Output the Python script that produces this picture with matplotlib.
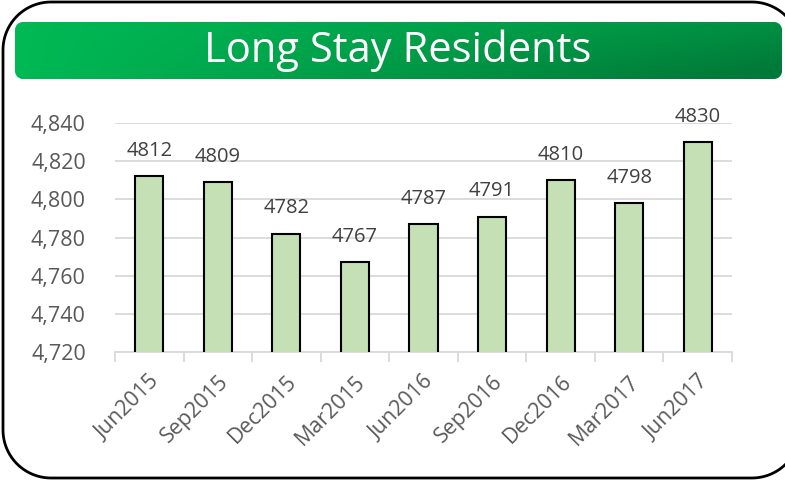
import matplotlib as mpl

mpl.use("Agg")

import matplotlib.pyplot as plt
import numpy as np
from matplotlib.patches import Polygon

W, H = 785, 480

categories = ["Jun2015", "Sep2015", "Dec2015", "Mar2015", "Jun2016",
              "Sep2016", "Dec2016", "Mar2017", "Jun2017"]
residents = [4812, 4809, 4782, 4767, 4787, 4791, 4810, 4798, 4830]
y_ticks = [4720, 4740, 4760, 4780, 4800, 4820, 4840]

BAR_FILL = "#C5E0B4"
GRID = "#D9D9D9"
TICK_TEXT = "#595959"
LABEL_TEXT = "#404040"

mpl.rcParams.update({"font.family": ["Open Sans", "DejaVu Sans"]})


def rounded_rect(x0, y0, x1, y1, r, n=24):
    # pixel coords, y downward; corners: top-left, top-right, bottom-right, bottom-left
    pts = []
    corners = [(x0 + r, y0 + r, np.pi, 1.5 * np.pi),
               (x1 - r, y0 + r, 1.5 * np.pi, 2 * np.pi),
               (x1 - r, y1 - r, 0, 0.5 * np.pi),
               (x0 + r, y1 - r, 0.5 * np.pi, np.pi)]
    for cx, cy, a0, a1 in corners:
        a = np.linspace(a0, a1, n)
        pts.extend(zip(cx + r * np.cos(a), cy + r * np.sin(a)))
    return np.array(pts)


fig = plt.figure(figsize=(W / 100, H / 100), dpi=100)

# background canvas in pixel coords (y downward)
bg = fig.add_axes([0, 0, 1, 1])
bg.set_xlim(0, W)
bg.set_ylim(H, 0)
bg.set_autoscale_on(False)
bg.axis("off")

frame = Polygon(rounded_rect(3, 2, 800, 478, 48), closed=True,
                facecolor="white", edgecolor="black", lw=2)
bg.add_patch(frame)

banner = Polygon(rounded_rect(15, 22, 782, 79, 8), closed=True,
                 facecolor="none", edgecolor="none")
bg.add_patch(banner)
gx = np.linspace(0, 1, 300)
gy = np.linspace(0, 1, 40)
GX, GY = np.meshgrid(gx, gy)
t = np.clip(0.65 * GX + 0.45 * GY * GX, 0, 1)
c0 = np.array([0x00, 0xB9, 0x55]) / 255
c1 = np.array([0x00, 0x7A, 0x38]) / 255
img = c0[None, None, :] * (1 - t[..., None]) + c1[None, None, :] * t[..., None]
im = bg.imshow(img, extent=(15, 782, 79, 22), aspect="auto", zorder=2)
im.set_clip_path(banner)
bg.set_xlim(0, W)
bg.set_ylim(H, 0)
bg.text(398, 51, "Long Stay Residents", color="white", fontsize=30,
        ha="center", va="center", zorder=3)

# chart area
left, right, top, bottom = 115, 732, 123, 352
ax = fig.add_axes([left / W, 1 - bottom / H, (right - left) / W, (bottom - top) / H])
ax.patch.set_alpha(0)

x = np.arange(len(categories))
bars = ax.bar(x, residents, width=0.41, color=BAR_FILL, edgecolor="black", lw=1.5, zorder=3)
for xi, v in zip(x, residents):
    ax.annotate(str(v), (xi, v), xytext=(0, 11), textcoords="offset points",
                ha="center", va="bottom", fontsize=14.5, color=LABEL_TEXT,
                annotation_clip=False)

ax.set_xlim(-0.5, len(categories) - 0.5)
ax.set_ylim(y_ticks[0], y_ticks[-1])
ax.set_yticks(y_ticks)
ax.set_yticklabels([f"{v:,}" for v in y_ticks], fontsize=15.5, color=TICK_TEXT)
ax.tick_params(axis="y", length=0, pad=21)
ax.grid(axis="y", color=GRID, lw=1.3, zorder=0)

ax.set_xticks(x)
ax.set_xticklabels(categories, rotation=45, ha="right", rotation_mode="anchor",
                   fontsize=15.5, color=TICK_TEXT)
ax.tick_params(axis="x", which="major", length=0, pad=14)
ax.set_xticks(np.arange(-0.5, len(categories)), minor=True)
ax.tick_params(axis="x", which="minor", length=7, color=GRID, width=1.3)

for side in ["left", "right", "top"]:
    ax.spines[side].set_visible(False)
ax.spines["bottom"].set_color(GRID)
ax.spines["bottom"].set_linewidth(1.3)

fig.savefig("out.png", dpi=100)
